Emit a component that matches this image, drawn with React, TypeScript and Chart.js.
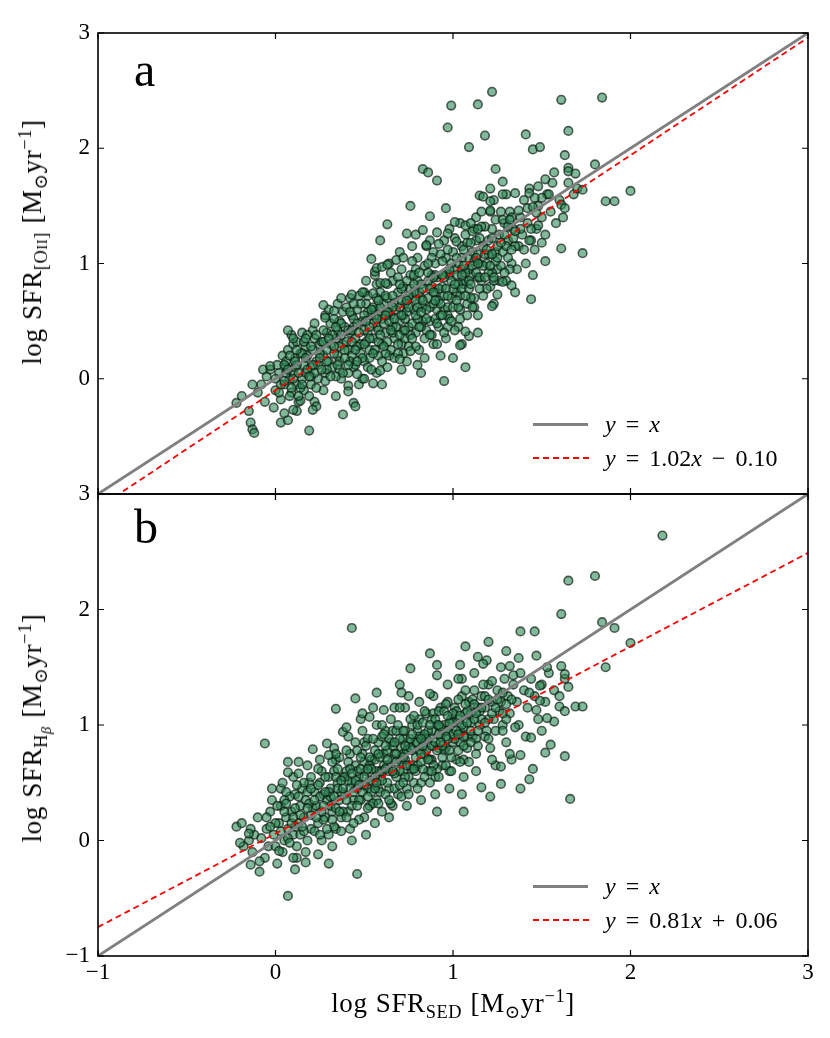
import React, { useEffect, useRef } from "react";
import { Chart, registerables } from "chart.js";

Chart.register(...registerables);

type P = [number, number];

// ---------- data ----------
const xTicks = [-1, 0, 1, 2, 3];
const yTicks = [-1, 0, 1, 2, 3];

const topOutliers: P[] = [
  [1.22, 2.49], [0.99, 2.37], [1.14, 2.38], [1.61, 2.42], [1.84, 2.44], [0.97, 2.18], [1.18, 2.11], [1.41, 2.12],
  [1.65, 2.15], [1.09, 2.01], [1.45, 1.99], [1.49, 2.01], [1.63, 1.94], [1.8, 1.86], [1.65, 1.83], [1.65, 1.8],
  [1.69, 1.78], [0.83, 1.82], [0.86, 1.79], [0.91, 1.72], [1.24, 1.82], [1.28, 1.71], [1.57, 1.79], [1.52, 1.73],
  [1.48, 1.67], [1.73, 1.64], [2.0, 1.63], [1.86, 1.54], [1.91, 1.54], [1.21, 1.65], [1.15, 1.59], [1.17, 1.58],
  [1.21, 1.54], [1.28, 1.6], [1.35, 1.61], [1.43, 1.61], [1.54, 1.6], [1.5, 1.57], [1.46, 1.57], [0.76, 1.5],
  [0.96, 1.48], [0.87, 1.41], [0.63, 1.34], [0.59, 1.2], [0.54, 1.04], [0.74, 1.26], [0.79, 1.25], [0.83, 1.29],
  [0.91, 1.27], [0.97, 1.26], [1.01, 1.36], [1.07, 1.33], [1.1, 1.35], [1.14, 1.3], [1.16, 1.45], [1.21, 1.46],
  [1.27, 1.45], [1.32, 1.38], [1.37, 1.46], [1.45, 1.49], [1.47, 1.44], [1.61, 1.51], [1.63, 1.48], [1.48, 1.33],
  [1.5, 1.18], [1.43, 1.2], [1.61, 1.13], [1.73, 1.09], [1.52, 1.02], [1.44, 0.69], [1.25, 0.73], [1.22, 0.63],
  [0.95, -0.02], [1.0, 0.18], [1.07, 0.1], [1.14, 0.4], [1.09, 0.37], [1.05, 0.3], [1.04, 0.29], [1.07, 0.41],
  [0.8, 0.12], [0.71, 0.08], [0.76, 0.24], [0.7, 0.17], [0.59, 0.07], [0.55, -0.04], [0.5, 0.0], [0.46, 0.04],
  [0.41, -0.06], [0.41, -0.11], [0.44, -0.21], [0.45, -0.24], [0.38, -0.31], [0.19, -0.45], [0.23, -0.24],
  [0.21, -0.27], [0.03, -0.38], [0.07, -0.36], [0.1, -0.27], [0.14, -0.19], [0.13, -0.15], [0.08, -0.15],
  [-0.14, -0.38], [-0.13, -0.44], [-0.12, -0.47], [-0.15, -0.28], [-0.19, -0.15], [-0.22, -0.21], [-0.13, -0.05],
  [-0.07, 0.08], [-0.03, 0.11], [0.07, 0.42], [0.1, 0.35], [0.17, 0.35], [0.12, 0.25], [0.27, 0.64], [0.33, 0.59],
  [0.28, 0.53], [0.43, 0.73], [0.49, 0.75], [0.55, 0.74], [0.59, 0.83], [0.62, 0.83], [0.56, 0.93], [0.89, 0.88],
  [0.94, 0.9], [1.23, 0.88], [1.28, 0.84], [1.33, 0.81], [0.57, 0.96], [0.6, 0.97], [0.63, 0.99], [0.68, 1.03],
  [0.72, 1.05], [0.77, 1.15], [0.85, 1.16], [0.92, 1.17], [1.02, 1.19],
];

const topCore: P[] = [
  [-0.08, -0.05], [-0.05, 0.02], [-0.1, -0.12], [-0.03, 0.08], [-0.06, -0.2],
  [0.0, -0.1], [0.02, 0.05], [0.01, 0.12], [-0.01, -0.25], [0.03, -0.18], [0.04, 0.2], [0.0, 0.0],
  [0.05, -0.05], [0.06, 0.1], [0.07, 0.25], [0.05, -0.3], [0.08, 0.0], [0.06, 0.15], [0.09, -0.12],
  [0.1, 0.05], [0.11, 0.18], [0.12, -0.05], [0.1, 0.3], [0.13, -0.2], [0.11, 0.1], [0.14, 0.22], [0.12, -0.28],
  [0.15, 0.0], [0.16, 0.12], [0.17, 0.28], [0.15, 0.4], [0.16, -0.1], [0.18, 0.2], [0.17, 0.05], [0.19, -0.15],
  [0.2, 0.1], [0.21, 0.25], [0.22, 0.35], [0.2, -0.05], [0.23, 0.15], [0.21, 0.42], [0.24, 0.0], [0.22, -0.2], [0.25, 0.3],
  [0.27, 0.2], [0.28, 0.05], [0.29, 0.4], [0.3, 0.15], [0.28, 0.55], [0.31, 0.3], [0.27, -0.1], [0.3, 0.6], [0.32, 0.1], [0.29, 0.25],
  [0.34, 0.35], [0.35, 0.2], [0.36, 0.5], [0.37, 0.0], [0.35, 0.65], [0.38, 0.3], [0.36, 0.15], [0.39, 0.45], [0.34, -0.15], [0.37, 0.7],
  [0.41, 0.25], [0.42, 0.4], [0.43, 0.55], [0.44, 0.1], [0.42, 0.7], [0.45, 0.35], [0.41, 0.05], [0.46, 0.6], [0.43, 0.2], [0.44, 0.45], [0.47, -0.05],
  [0.48, 0.3], [0.49, 0.5], [0.5, 0.15], [0.51, 0.65], [0.52, 0.4], [0.5, 0.75], [0.53, 0.25], [0.49, 0.0], [0.54, 0.55], [0.51, 0.85], [0.52, 0.1],
  [0.55, 0.35], [0.56, 0.6], [0.57, 0.45], [0.58, 0.2], [0.59, 0.75], [0.56, 0.9], [0.6, 0.3], [0.58, 0.55], [0.57, 0.05], [0.61, 0.65], [0.6, -0.05],
  [0.62, 0.4], [0.63, 0.7], [0.64, 0.2], [0.65, 0.55], [0.66, 0.85], [0.67, 0.35], [0.64, 1.0], [0.68, 0.6], [0.63, 0.1], [0.66, 0.45], [0.69, 0.75], [0.65, 0.25],
  [0.7, 0.5], [0.71, 0.3], [0.72, 0.8], [0.73, 0.65], [0.74, 0.15], [0.71, 0.95], [0.75, 0.45], [0.72, 0.55], [0.76, 0.9], [0.73, 0.35], [0.7, 1.1], [0.77, 0.7],
  [0.78, 0.6], [0.79, 0.4], [0.8, 0.85], [0.81, 0.25], [0.82, 0.7], [0.8, 1.05], [0.83, 0.5], [0.79, 0.95], [0.84, 0.35], [0.81, 0.75], [0.85, 1.15], [0.82, 0.05],
  [0.86, 0.7], [0.87, 0.5], [0.88, 0.9], [0.89, 0.3], [0.9, 1.0], [0.87, 1.2], [0.91, 0.6], [0.88, 0.8], [0.92, 0.45], [0.89, 1.1], [0.93, 0.2], [0.9, 0.75],
  [0.94, 0.8], [0.95, 0.6], [0.96, 1.05], [0.97, 0.45], [0.98, 0.9], [0.95, 1.2], [0.99, 0.7], [0.96, 0.35], [1.0, 1.1], [0.97, 0.55], [1.01, 0.95], [0.98, 1.3],
  [1.02, 0.75], [1.03, 1.0], [1.04, 0.6], [1.05, 1.15], [1.06, 0.85], [1.03, 0.45], [1.07, 1.25], [1.05, 0.95], [1.08, 0.65], [1.04, 1.35], [1.09, 1.05],
  [1.1, 0.9], [1.11, 1.1], [1.12, 0.7], [1.13, 1.2], [1.14, 0.55], [1.15, 1.0], [1.12, 1.3], [1.16, 0.85], [1.13, 1.4], [1.17, 1.15],
  [1.19, 1.0], [1.2, 1.2], [1.21, 0.8], [1.22, 1.3], [1.23, 0.65], [1.24, 1.1], [1.21, 1.45], [1.25, 0.95], [1.26, 1.25], [1.23, 1.55],
  [1.28, 1.1], [1.29, 1.35], [1.3, 0.85], [1.31, 1.2], [1.32, 1.45], [1.33, 1.0], [1.3, 1.6], [1.34, 1.3], [1.35, 0.75],
  [1.37, 1.15], [1.38, 1.4], [1.39, 1.25], [1.4, 1.55], [1.41, 1.0], [1.42, 1.35], [1.43, 1.65], [1.44, 1.2], [1.45, 0.9],
  [1.47, 1.3], [1.48, 1.5], [1.5, 1.4], [1.52, 1.25], [1.53, 1.6], [1.55, 1.45], [1.56, 1.7],
  [1.58, 1.35], [1.6, 1.55], [1.62, 1.4], [1.65, 1.7], [1.68, 1.6], [1.7, 1.65],
];

const topCoreDense: P[] = [
  [0.24, 0.12], [0.26, 0.32], [0.31, 0.48], [0.33, 0.22], [0.36, 0.08], [0.38, 0.58], [0.4, 0.32], [0.42, 0.15],
  [0.44, 0.52], [0.46, 0.28], [0.48, 0.65], [0.5, 0.42], [0.52, 0.58], [0.53, 0.18], [0.55, 0.48], [0.57, 0.7],
  [0.58, 0.32], [0.6, 0.52], [0.62, 0.22], [0.63, 0.82], [0.64, 0.58], [0.66, 0.4], [0.67, 0.66], [0.69, 0.3],
  [0.7, 0.62], [0.71, 0.78], [0.72, 0.42], [0.74, 0.58], [0.75, 0.28], [0.76, 0.78], [0.77, 0.48], [0.78, 0.9],
  [0.79, 0.68], [0.8, 0.52], [0.82, 0.82], [0.83, 0.62], [0.84, 0.98], [0.85, 0.42], [0.86, 0.85], [0.87, 0.62],
  [0.88, 1.05], [0.9, 0.52], [0.91, 0.88], [0.92, 0.68], [0.93, 1.08], [0.95, 0.72], [0.96, 0.92], [0.97, 0.62],
  [0.99, 1.0], [1.0, 0.78], [1.01, 1.22], [1.02, 0.9], [1.04, 0.72], [1.05, 1.05], [1.06, 0.82], [1.08, 1.18],
  [1.09, 0.95], [1.1, 0.7], [1.11, 1.28], [1.12, 1.02], [1.14, 0.88], [1.15, 1.22], [1.17, 0.98], [1.18, 1.32],
  [1.19, 0.78], [1.2, 1.08], [1.22, 0.92], [1.24, 1.38], [1.25, 1.15], [1.27, 0.98], [1.29, 1.25], [1.31, 1.05],
  [1.33, 1.4], [1.35, 1.15], [1.36, 0.95], [1.38, 1.3], [1.4, 1.12], [1.42, 1.48], [1.44, 1.3], [1.46, 1.12],
  [0.15, 0.22], [0.18, 0.38], [0.2, 0.02], [0.1, 0.0], [0.12, 0.32], [0.06, 0.05], [0.03, -0.05], [0.22, 0.48],
  [0.28, -0.02], [0.35, 0.42],
];

const topCoreExtra: P[] = [
  [0.25, 0.22], [0.27, 0.42], [0.29, 0.08], [0.32, 0.38], [0.33, 0.52], [0.34, 0.02], [0.36, 0.28], [0.37, 0.48],
  [0.39, 0.18], [0.4, 0.62], [0.41, 0.42], [0.43, 0.32], [0.44, 0.65], [0.45, 0.12], [0.46, 0.48], [0.47, 0.72],
  [0.48, 0.22], [0.5, 0.55], [0.51, 0.32], [0.52, 0.72], [0.53, 0.45], [0.54, 0.08], [0.55, 0.62], [0.56, 0.25],
  [0.57, 0.82], [0.58, 0.42], [0.59, 0.62], [0.6, 0.15], [0.61, 0.48], [0.62, 0.72], [0.63, 0.32], [0.64, 0.5],
  [0.65, 0.92], [0.66, 0.62], [0.67, 0.18], [0.68, 0.45], [0.69, 0.88], [0.7, 0.38], [0.71, 0.68], [0.72, 0.22],
  [0.73, 0.52], [0.74, 0.85], [0.75, 0.62], [0.76, 0.38], [0.77, 1.02], [0.78, 0.75], [0.79, 0.28], [0.8, 0.62],
  [0.81, 0.92], [0.82, 0.45], [0.83, 0.78], [0.84, 0.18], [0.85, 0.6], [0.86, 1.0], [0.87, 0.78], [0.88, 0.38],
  [0.89, 0.65], [0.9, 0.9], [0.91, 0.3], [0.92, 0.78], [0.93, 0.55], [0.94, 1.02], [0.95, 0.4], [0.96, 0.78],
  [0.97, 1.12], [0.98, 0.52], [0.99, 0.85], [1.0, 0.62], [1.01, 0.42], [1.02, 1.05], [1.03, 0.82], [1.04, 0.52],
  [1.05, 0.78], [1.06, 1.12], [1.07, 0.92], [1.08, 0.55], [1.09, 0.78], [1.1, 1.18], [1.11, 0.98], [1.12, 0.62],
  [1.13, 0.92], [1.14, 1.08], [1.15, 0.78], [1.16, 1.32], [1.18, 1.08], [1.2, 0.92], [1.22, 1.22], [1.24, 1.02],
  [1.26, 0.85], [1.28, 1.38], [1.3, 1.15], [1.32, 0.95], [1.34, 1.22], [0.12, 0.12], [0.14, -0.08], [0.16, 0.32],
  [0.18, 0.08], [0.2, 0.28], [0.22, 0.05], [0.08, 0.2], [0.05, 0.12], [0.02, -0.12], [0.09, 0.38], [0.23, 0.38],
  [0.26, 0.08],
];

const topCoreMore: P[] = [
  [0.05, -0.02], [0.07, 0.08], [0.09, -0.08], [0.11, 0.15], [0.13, 0.05], [0.15, -0.05], [0.17, 0.18], [0.19, 0.02],
  [0.21, 0.12], [0.23, -0.08], [0.25, 0.18], [0.27, 0.32], [0.29, 0.15], [0.31, 0.02], [0.33, 0.28], [0.35, 0.12],
  [0.37, 0.38], [0.39, 0.25], [0.41, 0.12], [0.43, 0.42], [0.45, 0.25], [0.47, 0.4], [0.49, 0.18], [0.51, 0.5],
  [0.53, 0.35], [0.55, 0.22], [0.57, 0.52], [0.59, 0.38], [0.61, 0.28], [0.63, 0.58], [0.65, 0.42], [0.67, 0.52],
  [0.69, 0.22], [0.71, 0.55], [0.73, 0.42], [0.75, 0.72], [0.77, 0.35], [0.79, 0.55], [0.81, 0.45], [0.83, 0.68],
  [0.85, 0.52], [0.87, 0.38], [0.89, 0.75], [0.91, 0.48], [0.93, 0.65], [0.95, 0.88], [0.97, 0.72], [0.99, 0.5],
  [1.01, 0.82], [1.03, 0.62], [1.05, 0.9], [1.07, 0.72], [1.09, 0.85], [1.11, 0.62], [1.13, 1.05], [1.15, 0.88],
  [1.17, 0.72], [1.19, 1.12], [1.21, 0.98], [1.23, 0.85], [1.25, 1.05], [1.27, 1.18], [1.29, 0.92], [1.31, 1.32],
  [1.33, 1.12], [1.35, 1.28], [0.3, 0.35], [0.34, 0.45], [0.38, 0.05], [0.42, 0.58], [0.46, 0.15], [0.5, 0.3],
  [0.54, 0.6], [0.58, 0.68], [0.62, 0.55], [0.66, 0.72], [0.7, 0.82], [0.74, 0.68], [0.78, 0.82], [0.82, 0.58],
  [0.86, 0.92], [0.9, 0.68], [0.94, 0.55], [0.98, 0.95], [1.02, 0.68], [1.06, 0.98], [1.1, 0.82], [1.14, 1.0],
  [1.18, 0.88], [1.22, 1.08],
];

const bottomOutliers: P[] = [
  [2.18, 2.64], [1.65, 2.25], [1.8, 2.29], [1.61, 1.96], [1.84, 1.89], [1.91, 1.84], [2.0, 1.71], [0.43, 1.84],
  [1.38, 1.81], [1.46, 1.81], [1.2, 1.72], [1.07, 1.68], [0.87, 1.62], [0.91, 1.52], [0.76, 1.49], [1.04, 1.52],
  [1.14, 1.59], [1.3, 1.64], [1.37, 1.58], [1.47, 1.6], [1.61, 1.51], [1.63, 1.44], [1.86, 1.5], [1.65, 1.33],
  [1.69, 1.16], [1.73, 1.16], [0.34, 1.14], [0.45, 1.23], [0.57, 1.28], [0.7, 1.35], [0.71, 1.28], [0.87, 1.27],
  [0.91, 1.43], [1.03, 1.4], [1.19, 1.56], [1.17, 1.53], [1.27, 1.5], [1.32, 1.51], [1.34, 1.43], [1.53, 1.5],
  [1.49, 1.34], [1.43, 1.28], [1.49, 1.21], [1.47, 1.13], [1.6, 1.16], [1.63, 1.12], [1.57, 1.03], [1.5, 0.95],
  [1.55, 0.83], [1.52, 0.76], [1.63, 0.73], [1.45, 0.62], [1.43, 0.53], [1.38, 0.45], [1.66, 0.36], [1.38, 0.74],
  [1.32, 0.75], [1.27, 0.64], [1.22, 0.7], [1.27, 0.49], [1.21, 0.38], [1.16, 0.46], [1.06, 0.25], [0.91, 0.25],
  [1.05, 0.4], [0.07, -0.48], [0.46, -0.29], [-0.06, 0.84], [-0.22, 0.12], [-0.19, 0.15], [-0.14, 0.1],
  [-0.15, 0.06], [-0.2, -0.02], [-0.14, -0.21], [-0.09, -0.27], [-0.09, -0.18], [-0.13, -0.1], [-0.02, 0.45],
  [-0.05, 0.2], [0.07, 0.68], [0.07, 0.59], [0.13, 0.58], [0.21, 0.79], [0.29, 0.84], [0.34, 0.75], [0.3, 0.74],
  [0.11, -0.25], [0.17, -0.19], [0.3, -0.2], [0.1, -0.15], [0.02, -0.09], [0.38, 0.94], [0.4, 0.98], [0.49, 1.1],
  [0.53, 1.07], [0.6, 1.0], [0.55, 1.15], [0.61, 1.13], [0.7, 1.15], [1.44, 0.89], [1.53, 1.06],
];

const bottomCore: P[] = [
  [-0.15, 0.0], [-0.12, 0.05], [-0.18, -0.05], [-0.1, 0.2],
  [-0.05, 0.1], [-0.04, -0.05], [-0.03, 0.25], [-0.06, -0.15], [-0.02, 0.35], [-0.01, 0.05],
  [0.02, 0.15], [0.03, 0.3], [0.04, -0.1], [0.05, 0.0], [0.03, 0.45], [0.06, 0.2], [0.01, -0.2], [0.07, 0.1],
  [0.09, 0.25], [0.1, 0.05], [0.11, 0.4], [0.12, -0.05], [0.13, 0.15], [0.1, 0.55], [0.14, 0.3], [0.12, -0.15], [0.15, 0.45],
  [0.16, 0.2], [0.17, 0.35], [0.18, 0.0], [0.19, 0.5], [0.2, 0.1], [0.18, 0.65], [0.21, 0.28], [0.17, -0.1], [0.22, 0.42],
  [0.23, 0.3], [0.24, 0.15], [0.25, 0.5], [0.26, 0.0], [0.27, 0.4], [0.25, 0.7], [0.28, 0.2], [0.26, 0.6], [0.29, 0.35], [0.24, -0.12], [0.3, 0.05],
  [0.31, 0.45], [0.32, 0.25], [0.33, 0.6], [0.34, 0.1], [0.35, 0.5], [0.33, 0.8], [0.36, 0.35], [0.34, 0.7], [0.37, 0.2], [0.32, -0.05], [0.38, 0.55],
  [0.39, 0.4], [0.4, 0.6], [0.41, 0.25], [0.42, 0.75], [0.43, 0.5], [0.41, 0.9], [0.44, 0.35], [0.42, 0.1], [0.45, 0.65], [0.43, 0.0], [0.46, 0.45],
  [0.47, 0.55], [0.48, 0.35], [0.49, 0.75], [0.5, 0.2], [0.51, 0.6], [0.49, 0.95], [0.52, 0.45], [0.5, 0.85], [0.53, 0.3], [0.51, 0.05], [0.54, 0.7], [0.48, 1.05],
  [0.55, 0.5], [0.56, 0.7], [0.57, 0.35], [0.58, 0.85], [0.59, 0.6], [0.57, 1.0], [0.6, 0.25], [0.58, 0.45], [0.61, 0.75], [0.56, 0.15], [0.62, 0.95], [0.59, 0.55],
  [0.63, 0.65], [0.64, 0.45], [0.65, 0.85], [0.66, 0.3], [0.67, 0.75], [0.65, 1.05], [0.68, 0.55], [0.66, 0.95], [0.69, 0.4], [0.64, 0.2], [0.7, 0.7], [0.67, 1.15],
  [0.71, 0.8], [0.72, 0.6], [0.73, 0.95], [0.74, 0.45], [0.75, 0.85], [0.73, 1.15], [0.76, 0.65], [0.74, 0.3], [0.77, 1.0], [0.72, 0.75], [0.78, 0.5], [0.75, 1.25],
  [0.79, 0.85], [0.8, 0.65], [0.81, 1.05], [0.82, 0.5], [0.83, 0.9], [0.81, 1.2], [0.84, 0.75], [0.82, 0.35], [0.85, 1.1], [0.8, 0.95], [0.86, 0.6],
  [0.87, 0.9], [0.88, 0.7], [0.89, 1.1], [0.9, 0.55], [0.91, 1.0], [0.89, 1.25], [0.92, 0.8], [0.9, 0.4], [0.93, 1.15], [0.88, 0.95], [0.94, 0.65],
  [0.95, 1.0], [0.96, 0.8], [0.97, 1.2], [0.98, 0.6], [0.99, 1.05], [0.97, 1.35], [1.0, 0.85], [0.98, 0.45], [1.01, 1.15], [0.96, 0.95], [1.02, 0.7],
  [1.03, 1.05], [1.04, 0.85], [1.05, 1.25], [1.06, 0.7], [1.07, 1.1], [1.05, 1.4], [1.08, 0.9], [1.06, 0.55], [1.09, 1.2], [1.04, 0.95],
  [1.1, 1.1], [1.11, 0.9], [1.12, 1.3], [1.13, 0.75], [1.14, 1.15], [1.12, 1.45], [1.15, 1.0], [1.13, 0.6], [1.16, 1.25],
  [1.18, 1.15], [1.19, 0.95], [1.2, 1.35], [1.21, 0.8], [1.22, 1.2], [1.23, 1.05], [1.24, 0.65], [1.25, 1.3],
  [1.27, 1.2], [1.28, 1.0], [1.29, 1.4], [1.3, 0.85], [1.31, 1.25], [1.32, 1.1], [1.33, 0.7], [1.34, 1.35],
  [1.36, 1.2], [1.37, 1.0], [1.38, 1.45], [1.4, 1.3], [1.41, 0.9], [1.42, 1.15], [1.44, 1.4],
  [1.46, 1.25], [1.48, 1.05], [1.5, 1.35], [1.52, 1.2], [1.54, 1.45], [1.57, 1.3], [1.6, 1.25], [1.63, 1.4],
];

const bottomCoreDense: P[] = [
  [0.2, 0.22], [0.22, 0.08], [0.25, 0.38], [0.27, 0.18], [0.3, 0.55], [0.31, 0.3], [0.33, 0.12], [0.35, 0.62],
  [0.37, 0.42], [0.38, 0.25], [0.4, 0.78], [0.41, 0.52], [0.43, 0.3], [0.45, 0.85], [0.46, 0.6], [0.47, 0.18],
  [0.49, 0.42], [0.5, 0.68], [0.52, 0.88], [0.53, 0.52], [0.55, 0.32], [0.56, 0.78], [0.57, 0.6], [0.59, 0.42],
  [0.6, 0.9], [0.61, 0.65], [0.63, 0.5], [0.64, 0.88], [0.66, 0.7], [0.67, 0.45], [0.68, 0.95], [0.7, 0.6],
  [0.71, 0.38], [0.72, 0.88], [0.73, 0.7], [0.75, 0.55], [0.76, 1.05], [0.77, 0.78], [0.79, 0.6], [0.8, 1.0],
  [0.81, 0.78], [0.83, 0.62], [0.84, 1.12], [0.85, 0.88], [0.87, 0.7], [0.88, 1.05], [0.89, 0.82], [0.91, 0.62],
  [0.92, 1.12], [0.93, 0.9], [0.95, 0.78], [0.96, 1.18], [0.97, 0.95], [0.99, 0.72], [1.0, 1.02], [1.01, 0.88],
  [1.03, 1.22], [1.04, 0.68], [1.06, 0.98], [1.07, 1.3], [1.08, 0.8], [1.1, 1.02], [1.11, 1.22], [1.13, 0.88],
  [1.15, 1.12], [1.17, 1.35], [1.18, 0.9], [1.2, 1.05], [1.22, 1.38], [1.24, 0.95], [1.26, 1.12], [1.28, 1.28],
  [1.3, 1.05], [1.33, 1.22], [1.35, 0.98], [0.05, 0.25], [0.08, 0.38], [0.11, 0.12], [0.14, 0.05], [0.16, 0.5],
  [0.19, 0.32], [0.0, 0.15], [-0.08, 0.02], [0.04, 0.5], [0.13, 0.68], [0.24, 0.62],
];

const bottomCoreExtra: P[] = [
  [0.22, 0.35], [0.24, 0.48], [0.26, 0.25], [0.28, 0.55], [0.29, 0.1], [0.31, 0.38], [0.32, 0.68], [0.34, 0.28],
  [0.35, 0.45], [0.36, 0.72], [0.37, 0.08], [0.39, 0.55], [0.4, 0.35], [0.41, 0.68], [0.42, 0.45], [0.44, 0.15],
  [0.45, 0.52], [0.46, 0.78], [0.47, 0.35], [0.48, 0.62], [0.5, 0.48], [0.51, 0.82], [0.52, 0.28], [0.53, 0.65],
  [0.54, 0.42], [0.55, 0.88], [0.56, 0.55], [0.58, 0.32], [0.59, 0.72], [0.6, 0.52], [0.61, 0.92], [0.62, 0.4],
  [0.63, 0.78], [0.64, 0.6], [0.65, 0.32], [0.66, 0.82], [0.67, 0.58], [0.68, 0.75], [0.69, 1.0], [0.7, 0.48],
  [0.71, 0.68], [0.72, 0.95], [0.73, 0.55], [0.74, 0.78], [0.75, 0.4], [0.76, 0.88], [0.77, 0.62], [0.78, 1.08],
  [0.79, 0.72], [0.8, 0.45], [0.81, 0.9], [0.82, 0.68], [0.83, 1.02], [0.84, 0.55], [0.85, 0.78], [0.86, 0.95],
  [0.87, 0.5], [0.88, 0.82], [0.89, 0.65], [0.9, 1.05], [0.91, 0.78], [0.92, 0.55], [0.93, 0.98], [0.94, 0.82],
  [0.95, 1.12], [0.96, 0.65], [0.97, 0.88], [0.98, 1.02], [0.99, 0.6], [1.0, 0.92], [1.02, 1.12], [1.03, 0.78],
  [1.05, 1.0], [1.06, 0.82], [1.08, 1.12], [1.09, 0.68], [1.1, 0.95], [1.12, 1.18], [1.14, 0.82], [1.16, 1.05],
  [1.18, 1.25], [1.2, 0.88], [1.22, 1.1], [1.25, 1.22], [1.28, 0.95], [1.3, 1.18], [0.05, 0.35], [0.07, 0.02],
  [0.09, 0.15], [0.12, 0.48], [0.14, 0.22], [0.16, 0.08], [0.18, 0.42], [0.2, 0.55], [0.01, 0.3], [-0.03, 0.12],
  [0.06, 0.42], [0.11, 0.28],
];

const bottomCoreMore: P[] = [
  [0.0, -0.05], [0.03, 0.08], [0.06, 0.32], [0.08, -0.02], [0.1, 0.2], [0.13, 0.38], [0.15, 0.12], [0.18, 0.28],
  [0.2, 0.45], [0.23, 0.2], [0.25, 0.05], [0.27, 0.3], [0.3, 0.42], [0.32, 0.18], [0.34, 0.55], [0.36, 0.25],
  [0.38, 0.45], [0.4, 0.2], [0.42, 0.62], [0.44, 0.42], [0.46, 0.3], [0.48, 0.72], [0.5, 0.55], [0.52, 0.38],
  [0.54, 0.62], [0.56, 0.45], [0.58, 0.75], [0.6, 0.6], [0.62, 0.82], [0.64, 0.35], [0.66, 0.6], [0.68, 0.68],
  [0.7, 0.88], [0.72, 0.5], [0.74, 0.65], [0.76, 0.8], [0.78, 0.62], [0.8, 0.85], [0.82, 0.75], [0.84, 0.92],
  [0.86, 0.7], [0.88, 0.6], [0.9, 0.85], [0.92, 1.0], [0.94, 0.72], [0.96, 0.9], [0.98, 0.78], [1.0, 1.1],
  [1.02, 0.95], [1.04, 1.08], [1.06, 0.9], [1.08, 1.02], [1.1, 0.85], [1.12, 1.05], [1.14, 0.95], [1.16, 1.15],
  [1.18, 1.02], [1.2, 1.22], [1.24, 1.15], [1.28, 1.1], [0.28, 0.42], [0.33, 0.38], [0.37, 0.52], [0.43, 0.58],
  [0.47, 0.48], [0.53, 0.72], [0.57, 0.5], [0.63, 0.7], [0.67, 0.85], [0.73, 0.82], [0.77, 0.92], [0.83, 0.82],
  [0.87, 1.0], [0.93, 0.85], [0.97, 1.08], [1.03, 0.92], [1.07, 1.18], [1.13, 1.1], [0.52, 0.62], [0.62, 0.62],
  [0.72, 0.72], [0.82, 0.88], [0.92, 0.92],
];

// lines: y = x, and the fitted relations given in the legends
const identityLine: P[] = [[-1, -1], [3, 3]];
const topFitLine: P[] = [[-1, -1.12], [3, 2.96]];
const bottomFitLine: P[] = [[-1, -0.75], [3, 2.49]];

// ---------- rendering ----------
const W = 830;
const H = 1038;
const SERIF = '"Liberation Serif", "DejaVu Serif", serif';

const fmt = (v: number) => (v < 0 ? "\u2212" + Math.abs(v) : String(v));
const toXY = (arr: P[]) => arr.map(([x, y]) => ({ x, y }));

const framePlugin = {
  id: "frameTicks",
  afterDraw(chart: any) {
    const { ctx, chartArea: a, scales } = chart;
    ctx.save();
    ctx.strokeStyle = "#000";
    ctx.lineWidth = 1.6;
    ctx.strokeRect(a.left, a.top, a.right - a.left, a.bottom - a.top);
    const L = 6;
    ctx.lineWidth = 1.2;
    ctx.beginPath();
    for (const v of xTicks) {
      const px = scales.x.getPixelForValue(v);
      ctx.moveTo(px, a.bottom);
      ctx.lineTo(px, a.bottom - L);
      ctx.moveTo(px, a.top);
      ctx.lineTo(px, a.top + L);
    }
    for (const v of yTicks) {
      const py = scales.y.getPixelForValue(v);
      ctx.moveTo(a.left, py);
      ctx.lineTo(a.left + L, py);
      ctx.moveTo(a.right, py);
      ctx.lineTo(a.right - L, py);
    }
    ctx.stroke();
    ctx.restore();
  },
};

function buildChart(canvas: HTMLCanvasElement, points: P[], fit: P[], isTop: boolean) {
  return new Chart(canvas, {
    type: "scatter",
    data: {
      datasets: [
        {
          data: toXY(fit),
          showLine: true,
          borderColor: "#ff0000",
          borderWidth: 1.8,
          borderDash: [6, 4],
          pointRadius: 0,
          fill: false,
        },
        {
          data: toXY(identityLine),
          showLine: true,
          borderColor: "#808080",
          borderWidth: 2.8,
          pointRadius: 0,
          fill: false,
        },
        {
          data: toXY(points),
          backgroundColor: "rgba(46,139,87,0.6)",
          borderColor: "rgba(10,25,15,0.68)",
          borderWidth: 1.6,
          pointRadius: 4.3,
        },
      ],
    } as any,
    options: {
      responsive: false,
      animation: false,
      events: [],
      devicePixelRatio: 1,
      layout: {
        padding: isTop
          ? { left: 0, right: W - 808, top: 33, bottom: H - 494 }
          : { left: 0, right: W - 808, top: 494, bottom: 0 },
      },
      plugins: { legend: { display: false }, tooltip: { enabled: false } },
      scales: {
        x: {
          type: "linear",
          min: -1,
          max: 3,
          grid: { display: false, drawTicks: false },
          border: { display: false },
          ticks: {
            display: !isTop,
            stepSize: 1,
            padding: 3,
            color: "#000",
            maxRotation: 0,
            autoSkip: false,
            font: { family: SERIF, size: 23 },
            callback: (v: any) => fmt(Number(v)),
          },
          afterFit: (s: any) => {
            s.height = isTop ? 0 : H - 956;
          },
        },
        y: {
          type: "linear",
          min: -1,
          max: 3,
          grid: { display: false, drawTicks: false },
          border: { display: false },
          ticks: {
            stepSize: 1,
            padding: 8,
            color: "#000",
            font: { family: SERIF, size: 23 },
            callback: (v: any) => (isTop && Number(v) === -1 ? "" : fmt(Number(v))),
          },
          afterFit: (s: any) => {
            s.width = 98;
          },
        },
      },
    } as any,
    plugins: [framePlugin],
  });
}

const subStyle: React.CSSProperties = { fontSize: "0.68em", verticalAlign: "-0.32em", lineHeight: 0 };
const supStyle: React.CSSProperties = { fontSize: "0.68em", verticalAlign: "0.55em", lineHeight: 0 };
const it: React.CSSProperties = { fontStyle: "italic" };

function Unit() {
  return (
    <span>
      [M<span style={subStyle}>⊙</span>yr<span style={supStyle}>−1</span>]
    </span>
  );
}

function Legend({ top, fit }: { top: number; fit: string[] }) {
  const rowGap = 34;
  const textStyle: React.CSSProperties = {
    position: "absolute",
    left: 605,
    height: 28,
    lineHeight: "28px",
    fontFamily: SERIF,
    fontSize: 24,
    wordSpacing: 4,
    whiteSpace: "nowrap",
    color: "#000",
  };
  return (
    <>
      <div style={{ position: "absolute", left: 533, top: top - 1.5, width: 55, height: 0, borderTop: "3px solid #808080" }} />
      <div style={{ ...textStyle, top: top - 14 }}>
        <span style={it}>y</span> = <span style={it}>x</span>
      </div>
      <svg style={{ position: "absolute", left: 533, top: top + rowGap - 2 }} width={56} height={4}>
        <line x1={0} y1={2} x2={56} y2={2} stroke="#ff0000" strokeWidth={1.8} strokeDasharray="6 4" />
      </svg>
      <div style={{ ...textStyle, top: top + rowGap - 14 }}>
        <span style={it}>y</span> = {fit[0]}
        <span style={it}>x</span> {fit[1]} {fit[2]}
      </div>
    </>
  );
}

export default function App() {
  const topRef = useRef<HTMLCanvasElement | null>(null);
  const botRef = useRef<HTMLCanvasElement | null>(null);

  useEffect(() => {
    const c1 = buildChart(
      topRef.current!,
      [...topCore, ...topCoreDense, ...topCoreExtra, ...topCoreMore, ...topOutliers],
      topFitLine,
      true
    );
    const c2 = buildChart(
      botRef.current!,
      [...bottomCore, ...bottomCoreDense, ...bottomCoreExtra, ...bottomCoreMore, ...bottomOutliers],
      bottomFitLine,
      false
    );
    return () => {
      c1.destroy();
      c2.destroy();
    };
  }, []);

  const titleBase: React.CSSProperties = {
    position: "absolute",
    fontFamily: SERIF,
    fontSize: 27,
    letterSpacing: 0.6,
    wordSpacing: 1,
    whiteSpace: "nowrap",
    color: "#000",
    lineHeight: "30px",
  };

  return (
    <div style={{ position: "absolute", left: 0, top: 0, width: W, height: H, background: "#fff", overflow: "hidden" }}>
      <canvas ref={topRef} width={W} height={H} style={{ position: "absolute", left: 0, top: 0 }} />
      <canvas ref={botRef} width={W} height={H} style={{ position: "absolute", left: 0, top: 0 }} />

      {/* panel letters */}
      <div style={{ position: "absolute", left: 134, top: 46, fontFamily: SERIF, fontSize: 48, lineHeight: "48px" }}>a</div>
      <div style={{ position: "absolute", left: 134, top: 503, fontFamily: SERIF, fontSize: 48, lineHeight: "48px" }}>b</div>

      {/* legends */}
      <Legend top={424} fit={["1.02", "\u2212", "0.10"]} />
      <Legend top={886} fit={["0.81", "+", "0.06"]} />

      {/* y titles */}
      <div style={{ ...titleBase, left: 32, top: 242, transform: "translate(-50%, -50%) rotate(-90deg)" }}>
        log SFR
        <span style={subStyle}>
          [O<span style={{ fontSize: "0.8em" }}>II</span>]
        </span>{" "}
        <Unit />
      </div>
      <div style={{ ...titleBase, left: 32, top: 728, transform: "translate(-50%, -50%) rotate(-90deg)" }}>
        log SFR
        <span style={subStyle}>
          H<span style={{ fontSize: "0.8em", verticalAlign: "-0.25em", fontStyle: "italic" }}>β</span>
        </span>{" "}
        <Unit />
      </div>

      {/* x title */}
      <div style={{ ...titleBase, left: 453, top: 1003, transform: "translate(-50%, -50%)" }}>
        log SFR<span style={subStyle}>SED</span> <Unit />
      </div>
    </div>
  );
}
